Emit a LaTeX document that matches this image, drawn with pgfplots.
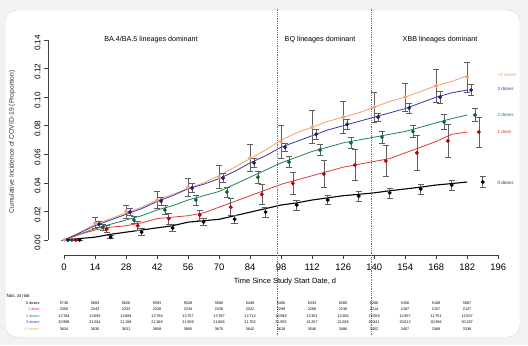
\documentclass[border=0pt]{standalone}
\usepackage{fontspec}
\setmainfont{Liberation Sans}
\usepackage{pgfplots}
\pgfplotsset{compat=1.18}
\definecolor{cOr}{RGB}{245,160,105}
\definecolor{cBl}{RGB}{55,55,165}
\definecolor{cBlp}{RGB}{30,30,120}
\definecolor{cGr}{RGB}{30,135,80}
\definecolor{cGrp}{RGB}{10,100,55}
\definecolor{cRd}{RGB}{230,55,55}
\definecolor{cRdp}{RGB}{190,0,0}
\definecolor{cEb}{RGB}{95,95,95}
\begin{document}
\begin{tikzpicture}[x=1bp,y=1bp]
\fill[black!5] (0,0) rectangle (528,345);
\fill[white, draw=black!15, rounded corners=12bp] (5,8) rectangle (520,335);
\begin{axis}[at={(48.05bp,90bp)}, anchor=south west, scale only axis,
  x=2.215bp, y=1428.6bp, xmin=-7.25, xmax=200, ymin=-0.0105, ymax=0.145,
  axis x line*=bottom, axis y line*=left, axis line style={draw=none},
  clip=false, tick align=outside, major tick length=4bp,
  tick style={black!75, line width=0.5bp},
  xtick={0,14,28,42,56,70,84,98,112,126,140,154,168,182,196},
  ytick={0,0.02,0.04,0.06,0.08,0.10,0.12,0.14},
  yticklabel={\pgfmathprintnumber[fixed,fixed zerofill,precision=2]{\tick}},
  /pgf/number format/assume math mode=true,
  xticklabel style={font=\fontsize{9.5}{10}\selectfont, yshift=-1bp},
  yticklabel style={font=\fontsize{8.2}{9}\selectfont, rotate=90, anchor=south, xshift=-3bp},
  every axis plot/.append style={line width=0.8bp},
  pts/.style={only marks, mark=*, mark size=1.5bp,
   error bars/.cd, y dir=both, y explicit,
   error bar style={cEb, line width=0.6bp},
   error mark options={cEb, line width=0.6bp, mark size=3.2bp, rotate=90},
   /pgfplots/.cd},
]
\draw[black!75, line width=0.5bp] (axis cs:0,-0.0105) -- (axis cs:196,-0.0105);
\draw[black!75, line width=0.5bp] (axis cs:-7.25,0) -- (axis cs:-7.25,0.14);
% curves
\addplot[cOr, mark=none] coordinates {(0,0) (3,0.002) (7,0.005) (14,0.011) (21,0.015) (28,0.019) (35,0.023) (42,0.028) (49,0.032) (56,0.036) (63,0.040) (70,0.045) (77,0.051) (84,0.057) (91,0.063) (98,0.070) (105,0.075) (112,0.079) (119,0.083) (126,0.086) (133,0.089) (140,0.093) (147,0.097) (154,0.100) (161,0.104) (168,0.108) (175,0.111) (182,0.115)};
\addplot[cBl, mark=none] coordinates {(0,0) (7,0.005) (14,0.010) (21,0.014) (28,0.018) (35,0.022) (42,0.027) (49,0.031) (56,0.036) (63,0.039) (70,0.043) (77,0.048) (84,0.054) (91,0.059) (98,0.065) (105,0.069) (112,0.073) (119,0.077) (126,0.080) (133,0.083) (140,0.086) (147,0.089) (154,0.092) (161,0.096) (168,0.100) (175,0.103) (182,0.105)};
\addplot[cGr, mark=none] coordinates {(0,0) (7,0.004) (14,0.008) (21,0.011) (28,0.014) (35,0.017) (42,0.021) (49,0.024) (56,0.028) (63,0.031) (70,0.034) (77,0.039) (84,0.044) (91,0.049) (98,0.054) (105,0.058) (112,0.062) (119,0.065) (126,0.068) (133,0.070) (140,0.072) (147,0.074) (154,0.076) (161,0.079) (168,0.082) (175,0.085) (182,0.0875)};
\addplot[cRd, mark=none] coordinates {(0,0) (7,0.004) (14,0.007) (21,0.009) (28,0.010) (35,0.012) (42,0.015) (49,0.016) (56,0.017) (63,0.019) (70,0.023) (77,0.027) (84,0.031) (91,0.035) (98,0.039) (105,0.042) (112,0.045) (119,0.048) (126,0.051) (133,0.053) (140,0.055) (147,0.057) (154,0.061) (161,0.065) (168,0.069) (175,0.074) (182,0.0756)};
\addplot[black, mark=none, line width=1.1bp] coordinates {(0,0) (7,0.001) (14,0.002) (21,0.004) (28,0.0055) (35,0.007) (42,0.0085) (49,0.010) (56,0.0125) (63,0.0135) (70,0.0145) (77,0.017) (84,0.0195) (91,0.022) (98,0.0245) (105,0.026) (112,0.028) (119,0.0295) (126,0.031) (133,0.032) (140,0.033) (147,0.0345) (154,0.0357) (161,0.037) (168,0.0385) (175,0.0395) (182,0.0406)};
% points with error bars
\addplot[cOr, pts] table[x index=0,y index=1,y error index=2] {
0 0 0
14 0.012 0.004
28 0.020 0.0045
42 0.028 0.006
56 0.037 0.0065
70 0.044 0.008
84 0.0574 0.0095
98 0.069 0.0115
112 0.079 0.0115
126 0.086 0.011
140 0.093 0.0105
154 0.100 0.010
168 0.108 0.0115
182 0.114 0.0105
};
\addplot[cBlp, pts] table[x index=0,y index=1,y error index=2] {
1.75 0 0
15.75 0.011 0.002
29.75 0.0196 0.0025
43.75 0.0273 0.0028
57.75 0.0364 0.003
71.75 0.0434 0.003
85.75 0.054 0.003
99.75 0.065 0.003
113.75 0.074 0.0035
127.75 0.081 0.0035
141.75 0.086 0.003
155.75 0.0924 0.0035
169.75 0.100 0.004
183.75 0.105 0.004
};
\addplot[cGrp, pts] table[x index=0,y index=1,y error index=2] {
3.5 0 0
17.5 0.009 0.002
31.5 0.014 0.0025
45.5 0.021 0.003
59.5 0.028 0.0035
73.5 0.0336 0.0035
87.5 0.044 0.004
101.5 0.0546 0.004
115.5 0.063 0.004
129.5 0.068 0.004
143.5 0.072 0.004
157.5 0.076 0.004
171.5 0.0827 0.0055
185.5 0.0875 0.0045
};
\addplot[cRdp, pts] table[x index=0,y index=1,y error index=2] {
5.25 0 0
19.25 0.0077 0.0025
33.25 0.010 0.003
47.25 0.015 0.004
61.25 0.0175 0.0035
75.25 0.023 0.006
89.25 0.032 0.007
103.25 0.0397 0.008
117.25 0.0462 0.0095
131.25 0.0525 0.011
145.25 0.0553 0.011
159.25 0.061 0.012
173.25 0.0694 0.0115
187.25 0.0756 0.0105
};
\addplot[black, pts] table[x index=0,y index=1,y error index=2] {
7 0 0
21 0.002 0.001
35 0.0055 0.0025
49 0.0085 0.0025
63 0.0126 0.0025
77 0.0146 0.003
91 0.0196 0.0035
105 0.0245 0.0035
119 0.028 0.003
133 0.0308 0.0035
147 0.033 0.0035
161 0.0357 0.0035
175 0.0385 0.0035
189 0.0406 0.004
};
\end{axis}
% dotted period lines
\draw[black!55, dash pattern=on 0.6bp off 1.2bp, line width=0.5bp] (277,10) -- (277,336);
\draw[black!55, dash pattern=on 0.6bp off 1.2bp, line width=0.5bp] (371,10) -- (371,336);
% period titles
\begin{scope}[font=\fontsize{7.2}{8}\selectfont]
\node at (151,305) {BA.4/BA.5 lineages dominant};
\node at (320,305) {BQ lineages dominant};
\node at (440,305) {XBB lineages dominant};
\end{scope}
% axis labels
\node[rotate=90, font=\fontsize{6.8}{7}\selectfont, text=black!80] at (12,203) {Cumulative Incidence of COVID-19 (Proportion)};
\node[font=\fontsize{7.5}{8}\selectfont] at (285,63) {Time Since Study Start Date, d};
% right labels
\begin{scope}[font=\fontsize{4.6}{5}\selectfont]
\node[anchor=west, text=cOr] at (494,270) {>3 doses};
\node[anchor=west, text=cBl] at (494,256) {3 doses};
\node[anchor=west, text=cGr] at (494,230) {2 doses};
\node[anchor=west, text=cRd] at (494,213) {1 dose};
\node[anchor=west, text=black!80] at (494,162) {0 doses};
\end{scope}
% risk table
\node[anchor=west, font=\fontsize{4.6}{5}\selectfont] at (3,49) {Nos.\ at risk:};
\begin{scope}[font=\fontsize{3.8}{4}\selectfont]
\node[anchor=east] at (43,42) {0 doses};
\node[anchor=east, text=cRd] at (43,35.5) {1 dose};
\node[anchor=east, text=cGr] at (43,29) {2 doses};
\node[anchor=east, text=cBl] at (43,22.5) {3 doses};
\node[anchor=east, text=cOr] at (43,16) {>3 doses};
\foreach \v [count=\i from 0] in {5738,5683,5626,5593,5528,5506,5449,5406,5333,5260,5206,5156,5108,5067}
  \node at ({64+31.01*\i},42) {\v};
\foreach \v [count=\i from 0] in {2350,2343,2333,2328,2334,2328,2322,2299,2268,2236,2214,2187,2157,2127}
  \node at ({64+31.01*\i},35.5) {\v};
\foreach \v [count=\i from 0] in {{13\,784},{13\,693},{13\,684},{13\,758},{13\,757},{13\,787},{13\,714},{13\,589},{13\,351},{13\,206},{13\,059},{12\,907},{12\,751},{12\,567}}
  \node at ({64+31.01*\i},29) {\v};
\foreach \v [count=\i from 0] in {{20\,998},{21\,024},{21\,158},{21\,368},{21\,509},{21\,606},{21\,702},{21\,555},{21\,257},{21\,026},{20\,841},{20\,613},{20\,396},{20\,187}}
  \node at ({64+31.01*\i},22.5) {\v};
\foreach \v [count=\i from 0] in {3634,3630,3631,3658,3665,3675,3642,3618,3546,3486,3452,3407,3368,3336}
  \node at ({64+31.01*\i},16) {\v};
\end{scope}
\end{tikzpicture}
\end{document}
